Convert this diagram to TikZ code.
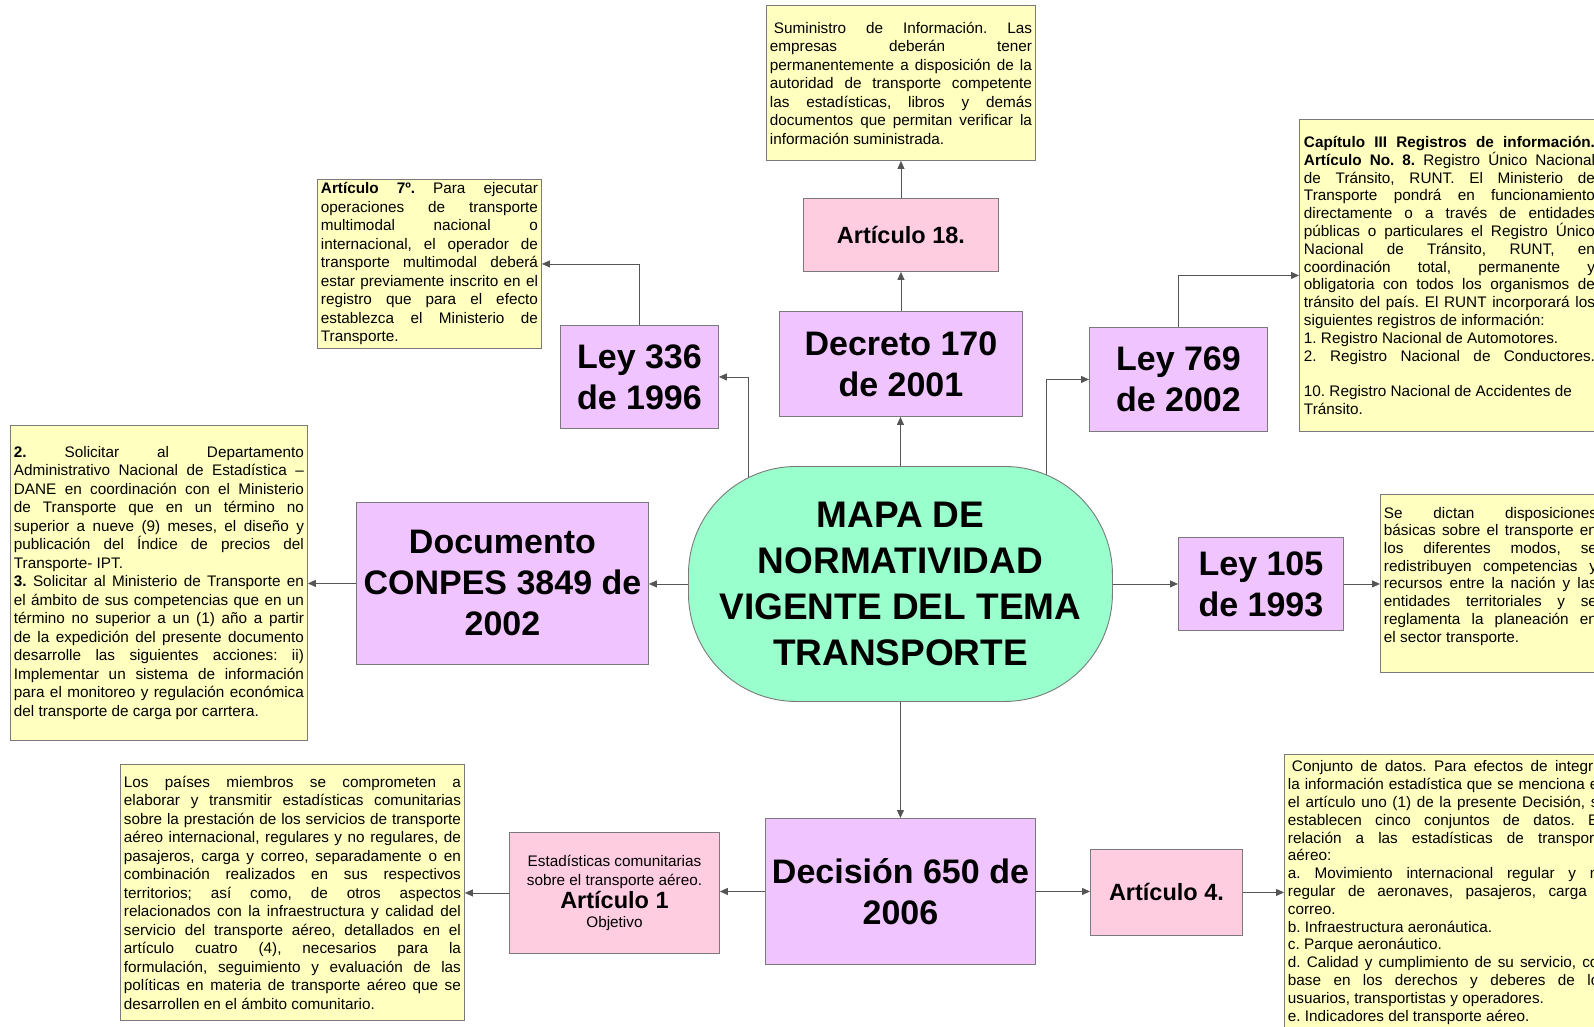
\documentclass[tikz,border=0pt]{standalone}
\usepackage{fontspec}
\setmainfont{Liberation Sans}
\usetikzlibrary{arrows.meta}
\definecolor{yfill}{HTML}{FFFFC0}
\definecolor{lfill}{HTML}{F0C4FF}
\definecolor{pfill}{HTML}{FFCCE0}
\definecolor{cfill}{HTML}{99FFCC}
\definecolor{boxgray}{HTML}{7A7A7A}
\definecolor{linegray}{HTML}{555555}
\pgfdeclarelayer{bg}
\pgfsetlayers{bg,main}
\tolerance=10000
\hbadness=10000
\hyphenpenalty=10000
\exhyphenpenalty=10000
\frenchspacing
\tikzset{
  ybox/.style={draw=boxgray, fill=yfill, line width=0.9pt, anchor=north west,
    align=justify, inner xsep=3.5pt, inner ysep=0pt,
    font=\frenchspacing\fontsize{15.3}{18.5}\selectfont},
  ybox2/.style={ybox, font=\frenchspacing\fontsize{15.3}{17.8}\selectfont},
  lbox/.style={draw=boxgray, fill=lfill, line width=0.9pt, anchor=north west,
    align=center, inner sep=2pt, font=\bfseries\fontsize{34}{41}\selectfont},
  pbox/.style={draw=boxgray, fill=pfill, line width=0.9pt, anchor=north west,
    align=center, inner sep=2pt, font=\bfseries\fontsize{23.5}{28}\selectfont},
  hubbox/.style={draw=boxgray, fill=cfill, line width=0.9pt, anchor=north west,
    rounded corners=108pt, align=center, inner sep=2pt,
    font=\bfseries\fontsize{37}{45.7}\selectfont},
  conn/.style={draw=linegray, line width=0.85pt, -{Triangle[length=8pt,width=7pt]}}
}
\begin{document}
\begin{tikzpicture}[x=1pt,y=-1pt]
\useasboundingbox (0,0) rectangle (1594,1027);
\clip (0,0) rectangle (1594,1027);

% central node
\node[hubbox, minimum width=424pt, minimum height=235pt] (hub) at (688,466)
  {MAPA DE\\NORMATIVIDAD\\VIGENTE DEL TEMA\\TRANSPORTE};

% lavender nodes
\node[lbox, minimum width=243pt, minimum height=105pt] (dec) at (779,311) {Decreto 170\\de 2001};
\node[lbox, minimum width=158pt, minimum height=103pt] (l336) at (560,325) {Ley 336\\de 1996};
\node[lbox, minimum width=178pt, minimum height=104pt] (l769) at (1089,327) {Ley 769\\de 2002};
\node[lbox, minimum width=292pt, minimum height=162pt] (conpes) at (356,502) {Documento\\CONPES 3849 de\\2002};
\node[lbox, minimum width=165pt, minimum height=93pt] (l105) at (1178,537) {Ley 105\\de 1993};
\node[lbox, minimum width=270pt, minimum height=146pt] (dcs) at (765,818) {Decisión 650 de\\2006};

% pink nodes
\node[pbox, minimum width=195pt, minimum height=73pt] (a18) at (803,198) {Artículo 18.};
\node[pbox, minimum width=152pt, minimum height=86pt] (a4) at (1090,849) {Artículo 4.};
\node[pbox, minimum width=210pt, minimum height=121pt, font=\fontsize{15.3}{19}\selectfont] (est) at (509,832)
  {Estadísticas comunitarias\\sobre el transporte aéreo.\\[1pt]{\bfseries\fontsize{23.5}{26}\selectfont Artículo 1}\\Objetivo};

% yellow text boxes
\node[ybox, text width=262pt, minimum width=269pt, minimum height=155pt] (info) at (766,5)
{\hspace*{4pt}Suministro de Información. Las\linebreak
empresas deberán tener\linebreak
permanentemente a disposición de la\linebreak
autoridad de transporte competente\linebreak
las estadísticas, libros y demás\linebreak
documentos que permitan verificar la\linebreak
información suministrada.};

\node[ybox, text width=217pt, minimum width=224pt, minimum height=169pt] (a7) at (317,179)
{\textbf{Artículo 7º.} Para ejecutar\linebreak
operaciones de transporte\linebreak
multimodal nacional o\linebreak
internacional, el operador de\linebreak
transporte multimodal deberá\linebreak
estar previamente inscrito en el\linebreak
registro que para el efecto\linebreak
establezca el Ministerio de\linebreak
Transporte.};

\node[ybox, text width=290pt, minimum width=297pt, minimum height=315pt] (solic) at (10,425)
{\textbf{2.} Solicitar al Departamento\linebreak
Administrativo Nacional de Estadística –\linebreak
DANE en coordinación con el Ministerio\linebreak
de Transporte que en un término no\linebreak
superior a nueve (9) meses, el diseño y\linebreak
publicación del Índice de precios del\linebreak
Transporte- IPT.\\
\textbf{3.} Solicitar al Ministerio de Transporte en\linebreak
el ámbito de sus competencias que en un\linebreak
término no superior a un (1) año a partir\linebreak
de la expedición del presente documento\linebreak
desarrolle las siguientes acciones: ii)\linebreak
Implementar un sistema de información\linebreak
para el monitoreo y regulación económica\linebreak
del transporte de carga por carrtera.};

\node[ybox2, text width=291pt, minimum width=300pt, minimum height=312pt] (cap) at (1299,119)
{\textbf{Capítulo III Registros de información.}\linebreak
\textbf{Artículo No. 8.} Registro Único Nacional\linebreak
de Tránsito, RUNT. El Ministerio de\linebreak
Transporte pondrá en funcionamiento\linebreak
directamente o a través de entidades\linebreak
públicas o particulares el Registro Único\linebreak
Nacional de Tránsito, RUNT, en\linebreak
coordinación total, permanente y\linebreak
obligatoria con todos los organismos de\linebreak
tránsito del país. El RUNT incorporará los\linebreak
siguientes registros de información:\\
1. Registro Nacional de Automotores.\\
2. Registro Nacional de Conductores.\linebreak
\mbox{}\\
10. Registro Nacional de Accidentes de\\
Tránsito.};

\node[ybox2, text width=213pt, minimum width=220pt, minimum height=178pt, font=\frenchspacing\fontsize{15.3}{17.7}\selectfont] (dictan) at (1380,494)
{Se dictan disposiciones\linebreak
básicas sobre el transporte en\linebreak
los diferentes modos, se\linebreak
redistribuyen competencias y\linebreak
recursos entre la nación y las\linebreak
entidades territoriales y se\linebreak
reglamenta la planeación en\linebreak
el sector transporte.\\
\mbox{}};

\node[ybox, text width=337pt, minimum width=344pt, minimum height=256pt] (paises) at (120,764)
{Los países miembros se comprometen a\linebreak
elaborar y transmitir estadísticas comunitarias\linebreak
sobre la prestación de los servicios de transporte\linebreak
aéreo internacional, regulares y no regulares, de\linebreak
pasajeros, carga y correo, separadamente o en\linebreak
combinación realizados en sus respectivos\linebreak
territorios; así como, de otros aspectos\linebreak
relacionados con la infraestructura y calidad del\linebreak
servicio del transporte aéreo, detallados en el\linebreak
artículo cuatro (4), necesarios para la\linebreak
formulación, seguimiento y evaluación de las\linebreak
políticas en materia de transporte aéreo que se\linebreak
desarrollen en el ámbito comunitario.};

\node[ybox2, text width=319pt, minimum width=326pt, minimum height=276pt] (conj) at (1284,754)
{\hspace*{4pt}Conjunto de datos. Para efectos de integrar\linebreak
la información estadística que se menciona en\linebreak
el artículo uno (1) de la presente Decisión, se\linebreak
establecen cinco conjuntos de datos. En\linebreak
relación a las estadísticas de transporte\linebreak
aéreo:\\
a. Movimiento internacional regular y no\linebreak
regular de aeronaves, pasajeros, carga y\linebreak
correo.\\
b. Infraestructura aeronáutica.\\
c. Parque aeronáutico.\\
d. Calidad y cumplimiento de su servicio, con\linebreak
base en los derechos y deberes de los\linebreak
usuarios, transportistas y operadores.\\
e. Indicadores del transporte aéreo.};

% connector start points inside the central node
\coordinate (c336) at (748,520);
\coordinate (c769) at (1046,520);

\begin{pgfonlayer}{bg}
\fill[white] (0,0) rectangle (1594,1027);
\draw[conn] (hub.north) -- (hub.north |- dec.south);
\draw[conn] (dec.north) -- (dec.north |- a18.south);
\draw[conn] (a18.north) -- (a18.north |- info.south);
\draw[conn] (c336) |- (l336.east);
\draw[conn] (l336.north) |- (a7.east);
\draw[conn] (c769) |- (l769.west);
\draw[conn] (l769.north) |- (cap.west);
\draw[conn] (hub.west) -- (hub.west -| conpes.east);
\draw[conn] (conpes.west) -- (conpes.west -| solic.east);
\draw[conn] (hub.east) -- (hub.east -| l105.west);
\draw[conn] (l105.east) -- (l105.east -| dictan.west);
\draw[conn] (hub.south) -- (hub.south |- dcs.north);
\draw[conn] (dcs.west) -- (dcs.west -| est.east);
\draw[conn] (est.west) -- (est.west -| paises.east);
\draw[conn] (dcs.east) -- (dcs.east -| a4.west);
\draw[conn] (a4.east) -- (a4.east -| conj.west);
\end{pgfonlayer}
\end{tikzpicture}
\end{document}
